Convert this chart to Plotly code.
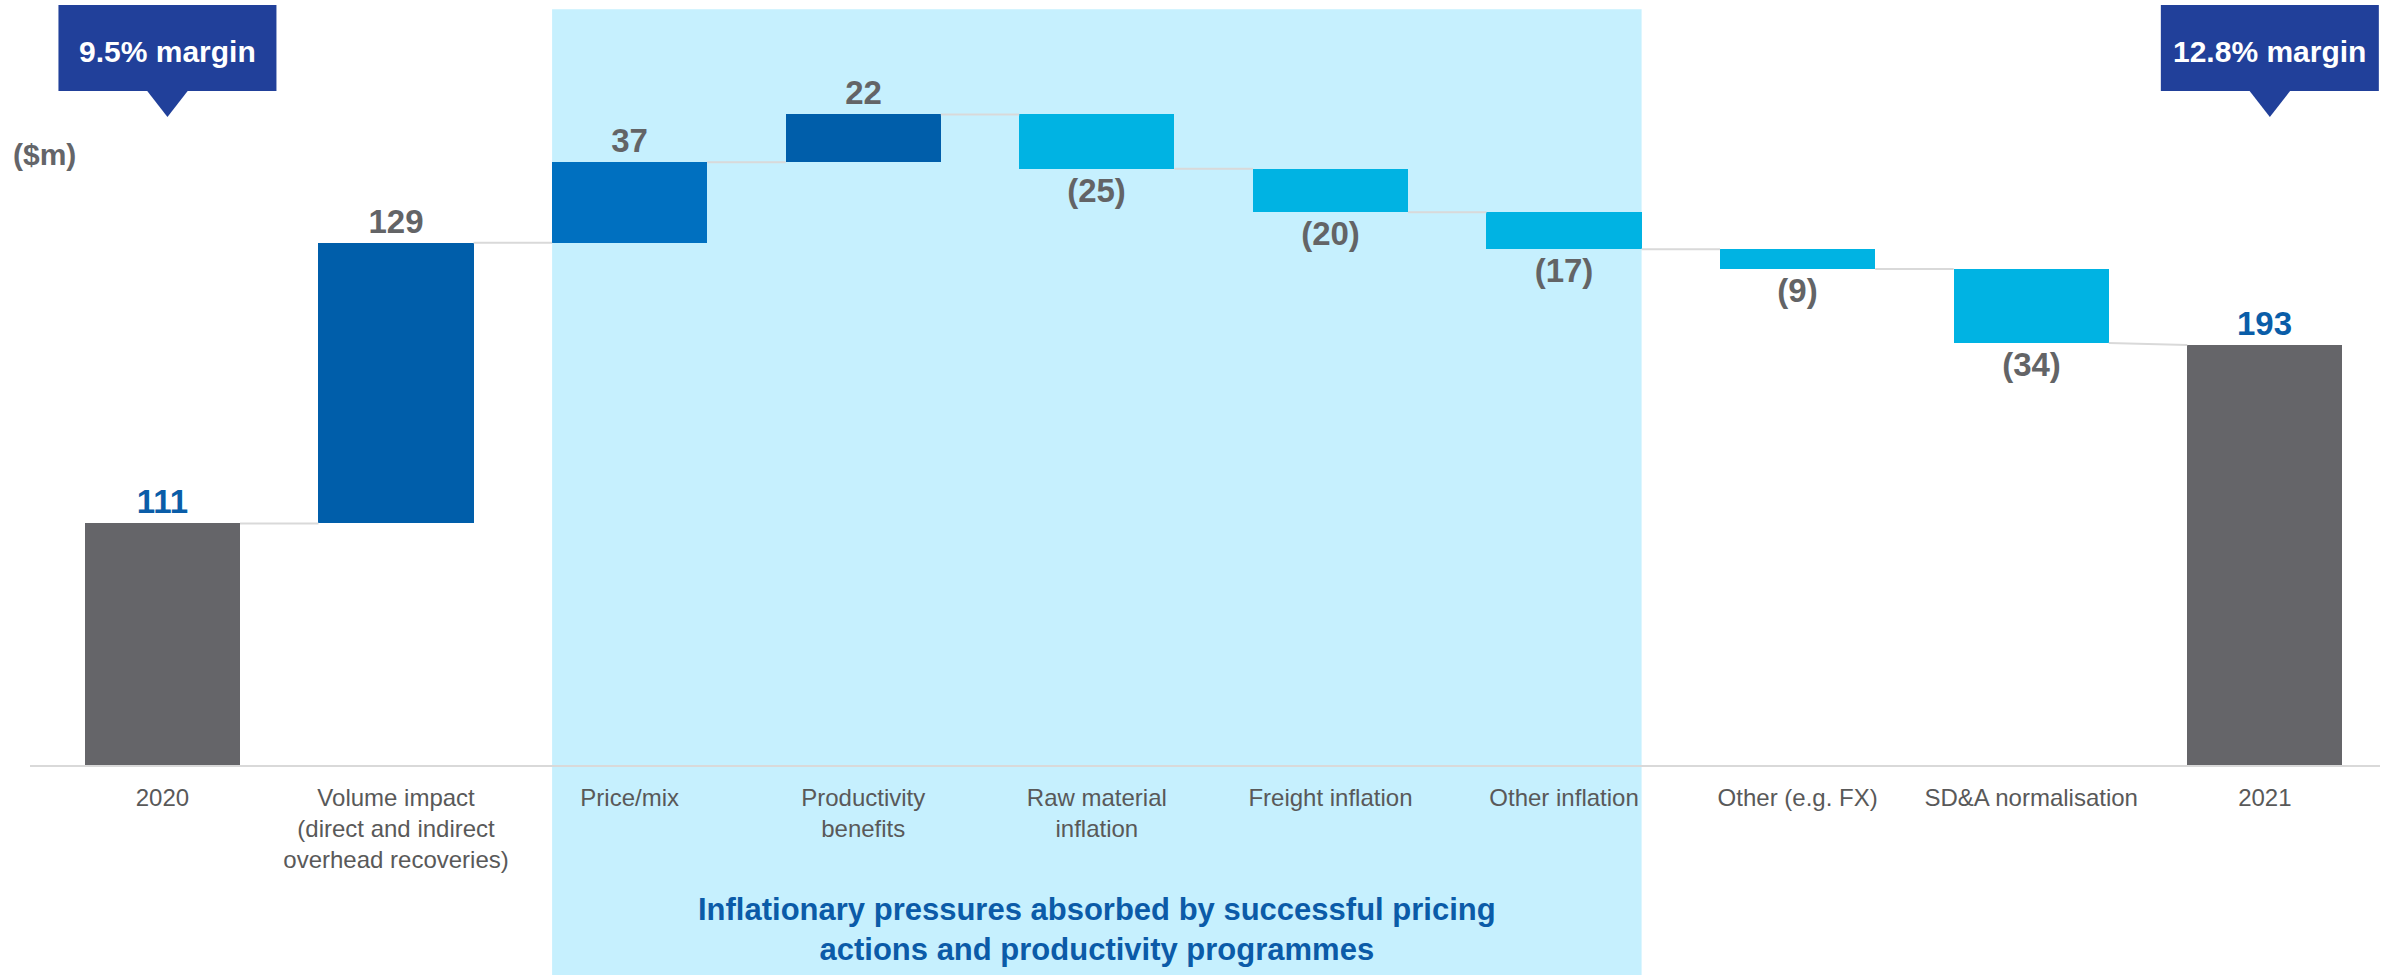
import plotly.graph_objects as go

categories = ["2020", "Volume impact<br>(direct and indirect<br>overhead recoveries)", "Price/mix",
              "Productivity<br>benefits", "Raw material<br>inflation", "Freight inflation",
              "Other inflation", "Other (e.g. FX)", "SD&A normalisation", "2021"]
values = [111, 129, 37, 22, -25, -20, -17, -9, -34, 193]
kinds = ["total", "delta", "delta", "delta", "delta", "delta", "delta", "delta", "delta", "total"]
bar_colors = ["#656569", "#005EAA", "#0070C0", "#005EAA", "#00B3E3", "#00B3E3",
              "#00B3E3", "#00B3E3", "#00B3E3", "#656569"]
margin_labels = ["9.5% margin", "12.8% margin"]
margin_positions = [0, 9]
shaded_from, shaded_to = 2, 6
subtitle = "Inflationary pressures absorbed by successful pricing<br>actions and productivity programmes"

BW = 0.664
NARROW = "Liberation Sans Narrow, Arial Narrow, Liberation Sans, Arial, sans-serif"
BOLD = "Liberation Sans, Arial, sans-serif"

xs = list(range(len(categories)))
bases, ys, ends = [], [], []
running = 0
for v, k in zip(values, kinds):
    if k == "total":
        bases.append(0); ys.append(v); running = v
    else:
        bases.append(running); ys.append(v); running += v
    ends.append(running)

texts = [str(v) if v >= 0 else f"({abs(v)})" for v in values]
text_colors = ["#0A5DA8" if k == "total" else "#636466" for k in kinds]

fig = go.Figure()
fig.add_trace(go.Bar(
    x=xs, y=ys, base=bases, width=BW,
    marker=dict(color=bar_colors, line=dict(width=0)),
    text=texts, textposition="outside",
    textfont=dict(family=NARROW, size=33, color=text_colors, weight="bold"),
    cliponaxis=False, hoverinfo="skip", showlegend=False,
))

cx, cy = [], []
for i in range(len(values) - 1):
    left_level = ends[i]
    right_level = values[i + 1] if kinds[i + 1] == "total" else ends[i]
    cx += [i + BW / 2, i + 1 - BW / 2, None]
    cy += [left_level, right_level, None]
fig.add_trace(go.Scatter(x=cx, y=cy, mode="lines", line=dict(color="#D9D9D9", width=2),
                         hoverinfo="skip", showlegend=False))

shapes = [dict(type="rect", xref="x", yref="paper",
               x0=shaded_from - BW / 2, x1=shaded_to + BW / 2, y0=-0.3, y1=0.988,
               fillcolor="#C6F0FE", line=dict(width=0), layer="below")]
annotations = []
for lab, pos in zip(margin_labels, margin_positions):
    shapes.append(dict(type="rect", xref="x", xsizemode="pixel", xanchor=pos,
                       yref="paper", ysizemode="pixel", yanchor=1,
                       x0=5 - 109, x1=5 + 109, y0=-91, y1=-5,
                       fillcolor="#21409A", line=dict(width=0)))
    shapes.append(dict(type="path", xref="x", xsizemode="pixel", xanchor=pos,
                       yref="paper", ysizemode="pixel", yanchor=1,
                       path="M -16,-90 L 26,-90 L 5,-117 Z",
                       fillcolor="#21409A", line=dict(width=0)))
    annotations.append(dict(x=pos, xref="x", xshift=5, y=1, yref="paper", yshift=-51,
                            text=lab, showarrow=False, xanchor="center", yanchor="middle",
                            font=dict(family=BOLD, size=30, color="white", weight="bold")))

annotations.append(dict(x=0, xref="paper", xshift=-19, y=1, yref="paper", yshift=-154,
                        text="($m)", showarrow=False, xanchor="left", yanchor="middle",
                        font=dict(family=BOLD, size=30, color="#646569", weight="bold")))
annotations.append(dict(x=(shaded_from + shaded_to) / 2, xref="x", y=0, yref="paper", yshift=-164,
                        text=subtitle, showarrow=False, xanchor="center", yanchor="middle",
                        font=dict(family=NARROW, size=31, color="#0B5BA8", weight="bold")))

fig.update_layout(
    width=2397, height=975,
    margin=dict(l=30, r=17, t=0, b=210, pad=0),
    paper_bgcolor="white", plot_bgcolor="rgba(0,0,0,0)",
    bargap=0, shapes=shapes, annotations=annotations,
    xaxis=dict(range=[-0.567, 9.493], tickmode="array", tickvals=xs, ticktext=categories,
               showgrid=False, zeroline=False, showline=True, linecolor="#D9D9D9", linewidth=2,
               ticks="", ticklabelstandoff=10,
               tickfont=dict(family=NARROW, size=24, color="#595959"), fixedrange=True),
    yaxis=dict(range=[0, 351.6], visible=False, showgrid=False, zeroline=False, fixedrange=True),
)

fig.write_html("out.html")
